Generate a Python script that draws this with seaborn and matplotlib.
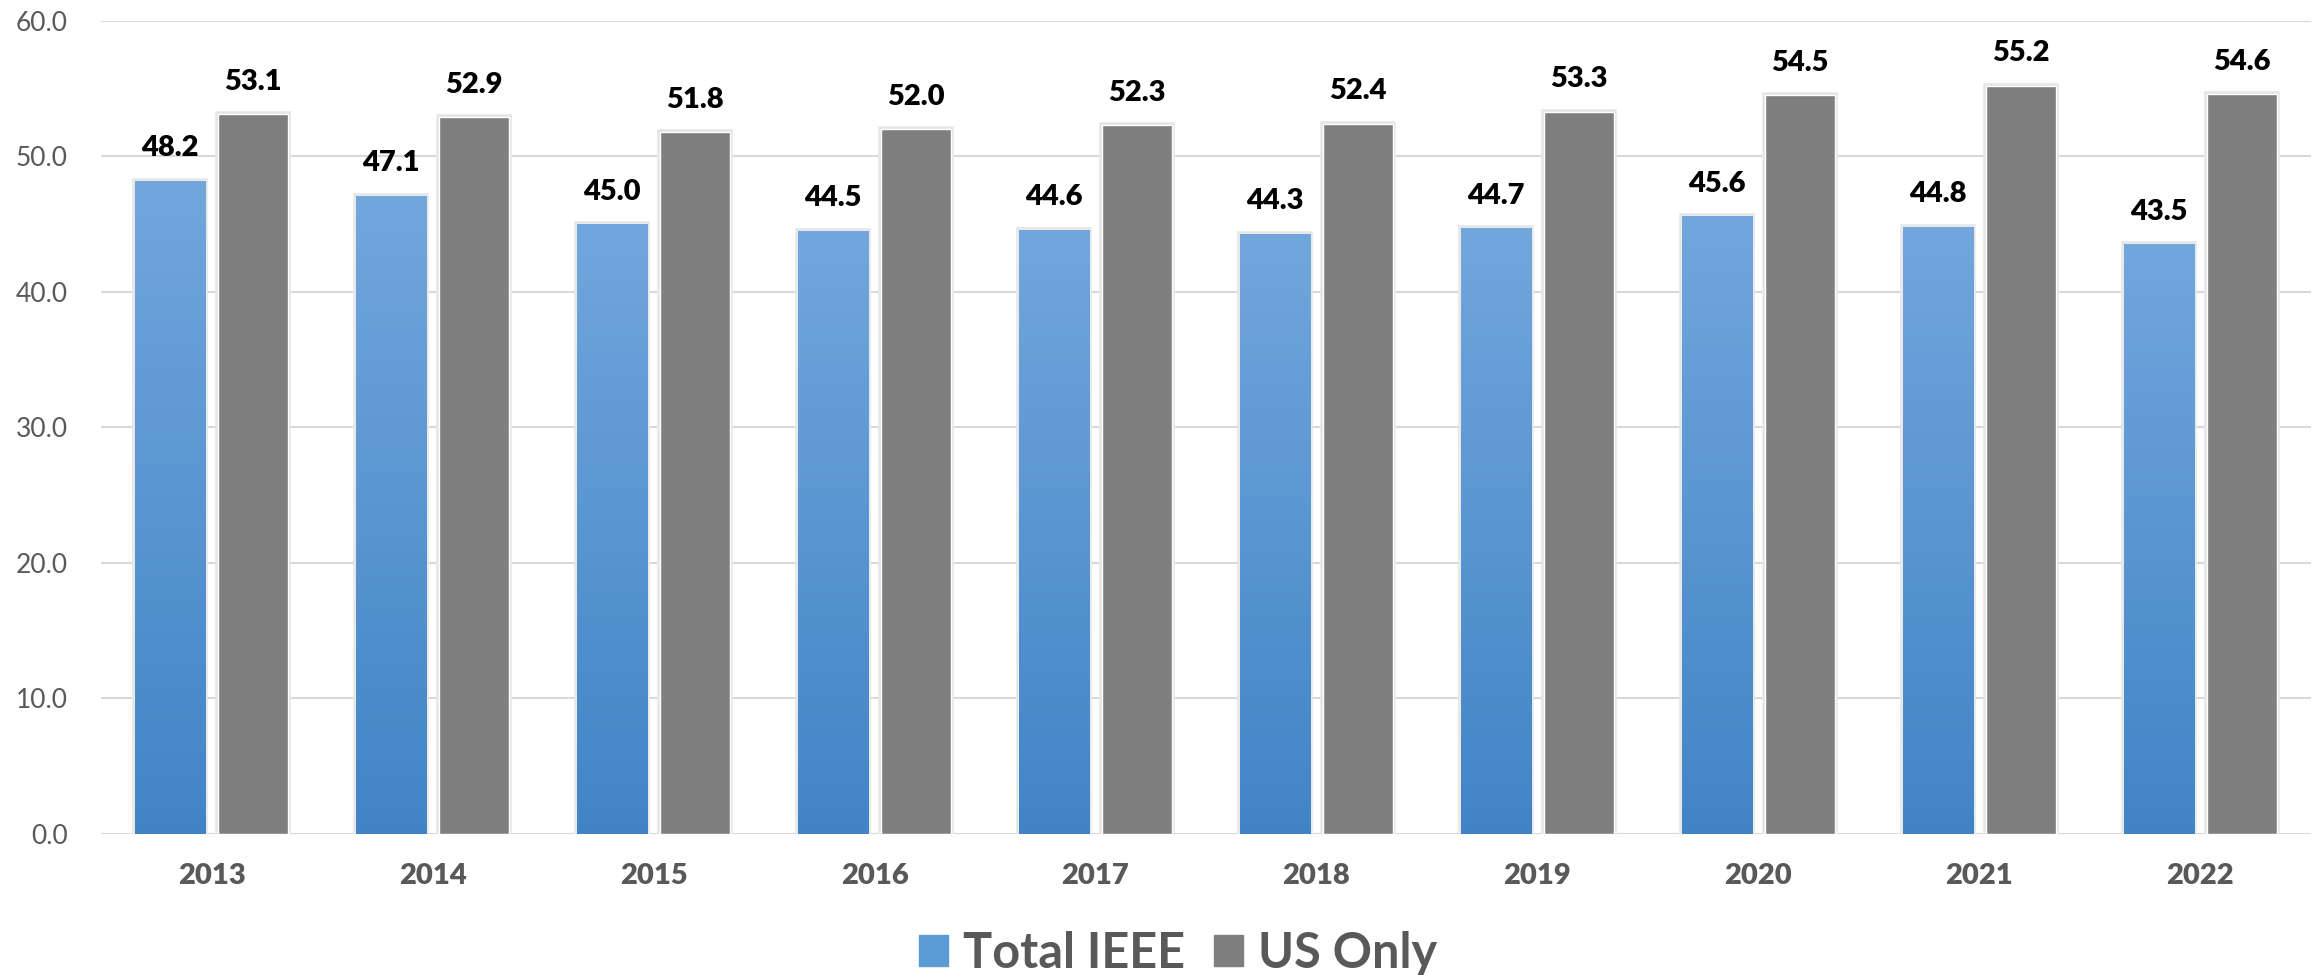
import numpy as np
import pandas as pd
import matplotlib
matplotlib.use('Agg')
import matplotlib.pyplot as plt
import matplotlib.patheffects as pe
import seaborn as sns

anos = ['2013', '2014', '2015', '2016', '2017', '2018', '2019', '2020', '2021', '2022']
total_ieee = [48.2, 47.1, 45.0, 44.5, 44.6, 44.3, 44.7, 45.6, 44.8, 43.5]
us_only = [53.1, 52.9, 51.8, 52.0, 52.3, 52.4, 53.3, 54.5, 55.2, 54.6]
series = ['Total IEEE', 'US Only']
y_ticks = [0, 10, 20, 30, 40, 50, 60]

df = pd.DataFrame({'ano': anos * 2,
                   'valor': total_ieee + us_only,
                   'serie': [series[0]] * len(anos) + [series[1]] * len(anos)})

sns.set_style('white')
plt.rcParams['font.family'] = ['Lato', 'DejaVu Sans']

cinza_txt = '#595959'
fig = plt.figure(figsize=(23.23, 9.75), dpi=100)
ax = fig.add_axes([0.0435, 0.1446, 0.9513, 0.834])

sns.barplot(data=df, x='ano', y='valor', hue='serie', palette=['#5B9BD5', '#7F7F7F'],
            width=0.756, gap=0.16, saturation=1, ax=ax, legend=False)

ax.set_xlim(-0.5, len(anos) - 0.5)
ax.set_ylim(0, 60)
ax.set_yticks(y_ticks)
ax.set_yticklabels(['%.1f' % v for v in y_ticks], fontsize=19, color=cinza_txt)
ax.tick_params(axis='y', length=0, pad=24)
ax.tick_params(axis='x', length=0, pad=21, labelsize=21, labelcolor=cinza_txt)
for t in ax.get_xticklabels():
    t.set_fontweight('heavy')
ax.set_xlabel('')
ax.set_ylabel('')
ax.grid(axis='y', color='#D9D9D9', linewidth=1.5)
ax.set_axisbelow(True)
for s in ['top', 'right', 'left', 'bottom']:
    ax.spines[s].set_visible(False)

# degrade azul nas barras do total
grad = np.linspace(0, 1, 256).reshape(-1, 1)
cmap = matplotlib.colors.LinearSegmentedColormap.from_list('azul', ['#4184C6', '#71A7DC'])
for p in ax.containers[0].patches:
    x0, y0 = p.get_x(), p.get_y()
    w, h = p.get_width(), p.get_height()
    im = ax.imshow(grad, cmap=cmap, aspect='auto', origin='lower',
                   extent=[x0, x0 + w, y0, y0 + h], zorder=p.get_zorder() + 0.1)
    im.set_clip_path(p)

for cont in ax.containers:
    for p in cont.patches:
        p.set_path_effects([pe.Stroke(linewidth=4, foreground='#E6E6E6'), pe.Normal()])
    ax.bar_label(cont, fmt='%.1f', padding=14, fontsize=21, fontweight='heavy', color='black')

handles = [plt.Rectangle((0, 0), 1, 1, color='#5B9BD5'), plt.Rectangle((0, 0), 1, 1, color='#7F7F7F')]
fig.legend(handles, series, loc='center', bbox_to_anchor=(0.507, 0.022), ncol=2, frameon=False,
           prop={'size': 35, 'weight': 'bold'}, labelcolor=cinza_txt,
           handlelength=0.6, handleheight=0.6, handletextpad=0.3, columnspacing=0.6)

plt.savefig('out.png', dpi=100)
